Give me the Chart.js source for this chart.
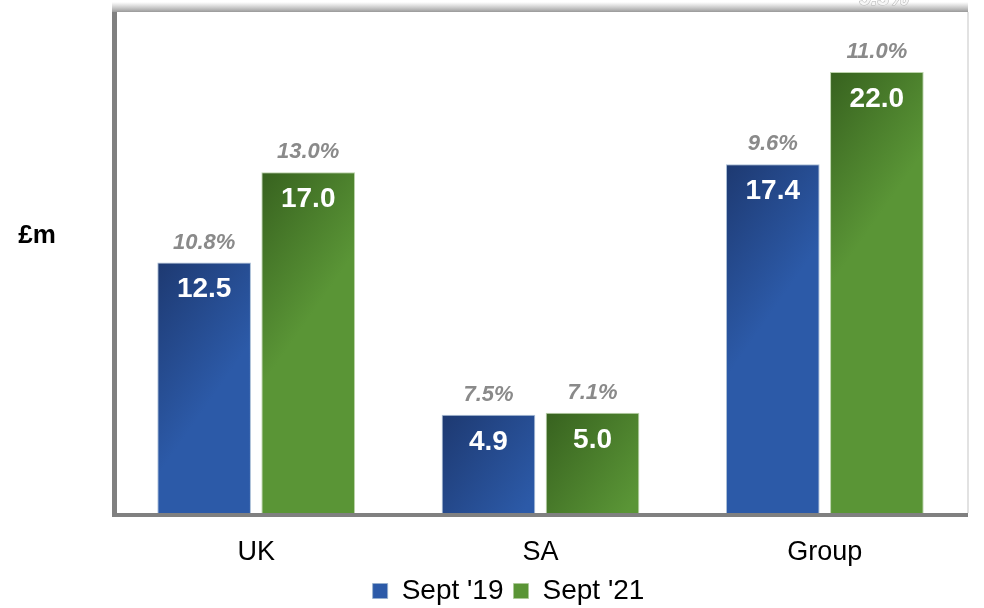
<!DOCTYPE html>
<html>
<head>
<meta charset="utf-8">
<script src="https://cdn.jsdelivr.net/npm/chart.js@4"></script>
<style>
  html, body { margin: 0; padding: 0; background: #fff; }
  #wrap { width: 984px; height: 608px; }
</style>
</head>
<body>
<div id="wrap"><canvas id="chart-profit"></canvas></div>
<script>
// 利益（£m）と利益率
const categories = ['UK', 'SA', 'Group'];
const sept19 = [12.5, 4.9, 17.4];
const sept21 = [17.0, 5.0, 22.0];
const margin19 = [10.8, 7.5, 9.6];
const margin21 = [13.0, 7.1, 11.0];
const seriesNames = ["Sept '19", "Sept '21"];
const yMax = 25;

const catPct = 0.732;
const FONT = 'Arial, "Liberation Sans", sans-serif';

// 棒のグラデーション（左上が濃く、右側が明るい）
function barFill(c, dark, light, flat) {
  const chart = c.chart;
  if (c.type !== 'data' || !chart.chartArea) return flat;
  const xs = chart.scales.x, ys = chart.scales.y;
  const step = xs.getPixelForValue(1) - xs.getPixelForValue(0);
  const slot = step * catPct / 2;
  const left = xs.getPixelForValue(c.dataIndex) + slot * (c.datasetIndex - 1);
  const top = ys.getPixelForValue(c.raw);
  const g = chart.ctx.createLinearGradient(left, top, left + slot, top + slot * 0.7);
  g.addColorStop(0, dark);
  g.addColorStop(1, light);
  return g;
}

// 枠線と上部の影
const framePlugin = {
  id: 'frame',
  afterDatasetsDraw(chart) {
    const ctx = chart.ctx;
    const a = chart.chartArea;
    ctx.save();
    const sh = ctx.createLinearGradient(0, 2, 0, 12);
    sh.addColorStop(0, 'rgba(170,170,170,0)');
    sh.addColorStop(1, '#999999');
    ctx.fillStyle = sh;
    ctx.fillRect(a.left - 2, 2, a.right - a.left + 3, 10);
    // 上にはみ出したラベル
    ctx.font = 'italic bold 22px ' + FONT;
    ctx.textAlign = 'center';
    ctx.textBaseline = 'alphabetic';
    ctx.fillStyle = '#f6f6f6';
    ctx.strokeStyle = '#b5b5b5';
    ctx.lineWidth = 1;
    ctx.strokeText('9.3%', 884, 5);
    ctx.fillText('9.3%', 884, 5);

    ctx.fillStyle = '#e2e2e2';
    ctx.fillRect(a.right, 12, 2, a.bottom - 12);
    ctx.fillStyle = '#808080';
    ctx.fillRect(a.left - 2, 12, 5, a.bottom - 10);
    ctx.fillRect(a.left - 2, a.bottom, a.right - a.left + 3, 4);
    ctx.restore();
  }
};

// 棒の中の値と上の利益率
const labelPlugin = {
  id: 'barLabels',
  afterDraw(chart) {
    const ctx = chart.ctx;
    const margins = [margin19, margin21];
    ctx.save();
    ctx.textAlign = 'center';
    ctx.textBaseline = 'middle';
    chart.data.datasets.forEach((ds, di) => {
      chart.getDatasetMeta(di).data.forEach((bar, i) => {
        ctx.font = 'bold 28px ' + FONT;
        ctx.fillStyle = '#ffffff';
        ctx.fillText(ds.data[i].toFixed(1), bar.x, bar.y + 27);
        ctx.font = 'italic bold 22px ' + FONT;
        ctx.fillStyle = '#8a8a8a';
        ctx.fillText(margins[di][i].toFixed(1) + '%', bar.x, bar.y - 20);
      });
    });
    // 縦軸の単位
    ctx.font = 'bold 26px ' + FONT;
    ctx.fillStyle = '#000000';
    ctx.textAlign = 'center';
    ctx.fillText('£m', 37, 236);
    ctx.restore();
  }
};

let myChart = new Chart(document.getElementById('chart-profit'), {
  type: 'bar',
  data: {
    labels: categories,
    datasets: [
      {
        label: seriesNames[0],
        data: sept19,
        backgroundColor: (c) => barFill(c, '#1d386f', '#2c5aa8', '#2a4f92'),
        borderColor: 'rgba(150,175,205,0.8)',
        borderWidth: 1,
        barPercentage: 0.9,
        categoryPercentage: catPct
      },
      {
        label: seriesNames[1],
        data: sept21,
        backgroundColor: (c) => barFill(c, '#36601e', '#5a9536', '#4b7d2d'),
        borderColor: 'rgba(170,200,150,0.8)',
        borderWidth: 1,
        barPercentage: 0.9,
        categoryPercentage: catPct
      }
    ]
  },
  options: {
    responsive: true,
    maintainAspectRatio: false,
    animation: false,
    layout: { padding: { left: 50, right: 17, top: 12, bottom: -7 } },
    scales: {
      x: {
        grid: { display: false, drawTicks: false },
        border: { display: false },
        ticks: { color: '#000', font: { family: FONT, size: 27 }, padding: 23 },
        afterFit(scale) { scale.height = 54; }
      },
      y: {
        min: 0,
        max: yMax,
        grid: { display: false, drawTicks: false },
        border: { display: false },
        ticks: { display: false },
        afterFit(scale) { scale.width = 64; }
      }
    },
    plugins: {
      legend: {
        position: 'bottom',
        labels: {
          color: '#000',
          font: { family: FONT, size: 28 },
          boxWidth: 15,
          boxHeight: 15,
          padding: 10
        }
      },
      tooltip: { enabled: false }
    }
  },
  plugins: [framePlugin, labelPlugin]
});
</script>
</body>
</html>
